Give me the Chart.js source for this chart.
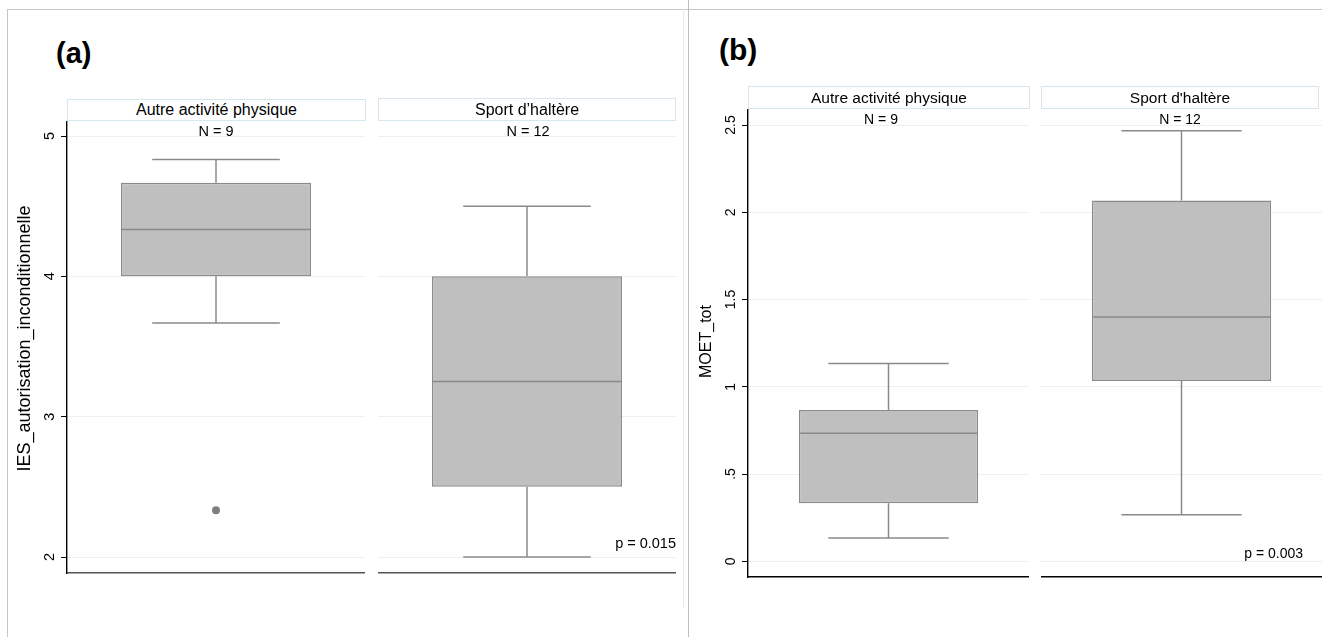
<!DOCTYPE html>
<html><head><meta charset="utf-8">
<script src="https://cdn.jsdelivr.net/npm/chart.js@4/dist/chart.umd.min.js"></script>
<style>
html,body{margin:0;padding:0;background:#fff;}
body{width:1322px;height:637px;position:relative;overflow:hidden;font-family:"Liberation Sans",Arial,Helvetica,sans-serif;color:#000;}
canvas{position:absolute;}
.strip{position:absolute;box-sizing:border-box;border:1px solid #d8e6ee;background:#fff;text-align:center;white-space:nowrap;display:flex;align-items:center;justify-content:center;}
.lbl{position:absolute;white-space:nowrap;line-height:1;}
.line{position:absolute;}
.panel{position:absolute;font-weight:bold;line-height:1;white-space:nowrap;}
</style></head><body>
<div class="line" style="left:7px;top:9px;width:1315px;height:1px;background:#c6c6c6"></div>
<div class="line" style="left:7px;top:9px;width:1px;height:628px;background:#c6c6c6"></div>
<div class="line" style="left:683px;top:9px;width:1px;height:599px;background:#ececec"></div>
<div class="line" style="left:688px;top:0px;width:1px;height:637px;background:#bdbdbd"></div>
<script>
// ---------- data ----------
const panelLabels = ['(a)', '(b)'];
const categoriesA = ['Autre activité physique', 'Sport d\u2019haltère'];
const categoriesB = ['Autre activité physique', "Sport d'haltère"];
const countsA = [9, 12];
const countsB = [9, 12];
const pValueA = 'p = 0.015';
const pValueB = 'p = 0.003';
const yTitleA = 'IES_autorisation_inconditionnelle';
const yTitleB = 'MOET_tot';

// panel (a): box statistics per group
const whiskerLowA  = [3.667, 2.0];
const q1A          = [4.0, 2.5];
const medianA      = [4.333, 3.25];
const q3A          = [4.667, 4.0];
const whiskerHighA = [4.833, 4.5];
const outliersA    = [[2.333], []];
const yTicksA      = [2, 3, 4, 5];
const yTickLabelsA = ['2', '3', '4', '5'];

// panel (b)
const whiskerLowB  = [0.133, 0.267];
const q1B          = [0.333, 1.033];
const medianB      = [0.733, 1.4];
const q3B          = [0.867, 2.067];
const whiskerHighB = [1.133, 2.467];
const outliersB    = [[], []];
const yTicksB      = [0, 0.5, 1, 1.5, 2, 2.5];
const yTickLabelsB = ['0', '.5', '1', '1.5', '2', '2.5'];

// ---------- helpers ----------
const FONT = '"Liberation Sans", Arial, Helvetica, sans-serif';
const BOX_FILL = '#bfbfbf', BOX_LINE = '#8a8a8a', PT_COLOR = '#7f7f7f';

function addDiv(cls, style, text) {
  const d = document.createElement('div');
  d.className = cls; d.style.cssText = style; d.textContent = text;
  document.body.appendChild(d); return d;
}

function makeFacet(c) {
  const cv = document.createElement('canvas');
  cv.style.left = c.left + 'px'; cv.style.top = c.top + 'px';
  cv.style.width = c.width + 'px'; cv.style.height = c.height + 'px';
  cv.width = c.width; cv.height = c.height;
  document.body.appendChild(cv);
  const i = c.index, s = c.stats, cat = c.category;
  const datasets = [{
    type: 'bar',
    data: [[s.q1[i], s.q3[i]]],
    backgroundColor: BOX_FILL, borderColor: BOX_LINE, borderWidth: 1.5,
    borderSkipped: false, barPercentage: c.boxRatio, categoryPercentage: 1, order: 2
  }];
  if (s.outliers[i].length) {
    datasets.push({
      type: 'line', showLine: false,
      data: s.outliers[i].map(v => ({x: cat, y: v})),
      pointRadius: 4, pointBackgroundColor: PT_COLOR, pointBorderColor: PT_COLOR,
      pointBorderWidth: 0, order: 1
    });
  }
  const whiskerPlugin = {
    id: 'whiskers',
    afterDatasetsDraw(chart) {
      const bar = chart.getDatasetMeta(0).data[0];
      const ys = chart.scales.y;
      const py = v => ys.getPixelForValue(v);
      const cx = bar.x, hw = bar.width / 2, cap = hw * c.capRatio;
      const ctx = chart.ctx;
      ctx.save();
      ctx.strokeStyle = BOX_LINE; ctx.lineWidth = 1.5;
      ctx.beginPath();
      ctx.moveTo(cx - hw + 0.75, py(s.median[i])); ctx.lineTo(cx + hw - 0.75, py(s.median[i]));
      ctx.moveTo(cx, py(s.q3[i])); ctx.lineTo(cx, py(s.hi[i]));
      ctx.moveTo(cx - cap, py(s.hi[i])); ctx.lineTo(cx + cap, py(s.hi[i]));
      ctx.moveTo(cx, py(s.q1[i])); ctx.lineTo(cx, py(s.lo[i]));
      ctx.moveTo(cx - cap, py(s.lo[i])); ctx.lineTo(cx + cap, py(s.lo[i]));
      ctx.stroke();
      ctx.restore();
    }
  };
  return new Chart(cv, {
    type: 'bar',
    data: { labels: [cat], datasets },
    plugins: [whiskerPlugin],
    options: {
      responsive: false, animation: false, events: [],
      layout: { autoPadding: false, padding: { top: 20, bottom: 20, left: 0, right: 0 } },
      plugins: { legend: { display: false }, tooltip: { enabled: false } },
      scales: {
        x: {
          type: 'category', offset: true,
          grid: { display: false, drawTicks: false },
          ticks: { display: false },
          border: { display: true, color: c.xAxisColor, width: 1.4 }
        },
        y: {
          type: 'linear', min: c.min, max: c.max,
          afterBuildTicks: sc => { sc.ticks = c.ticks.map(v => ({ value: v })); },
          afterFit: sc => {
            sc.width = c.yWidth;
            if (c.titleShift && !sc._titleWrapped) {
              const orig = sc.drawTitle;
              sc.drawTitle = function () {
                const t = this.top, b = this.bottom;
                this.top = t + c.titleShift; this.bottom = b + c.titleShift;
                orig.apply(this, arguments);
                this.top = t; this.bottom = b;
              };
              sc._titleWrapped = true;
            }
          },
          grid: { color: '#eaf1f3', lineWidth: 1, drawTicks: c.showAxis, tickLength: 6, tickColor: '#000', tickWidth: 1 },
          border: { display: c.showAxis, color: '#000', width: 1.4 },
          ticks: {
            display: c.showAxis, minRotation: 90, maxRotation: 90, crossAlign: 'center',
            padding: c.tickPad, color: '#000', font: { family: FONT, size: c.tickSize },
            callback: (v, idx) => c.tickLabels[idx]
          },
          title: {
            display: c.showAxis, text: c.title, color: '#000',
            font: { family: FONT, size: c.titleSize },
            padding: { top: c.titlePad, bottom: 0 }
          }
        }
      }
    }
  });
}

const statsA = { lo: whiskerLowA, q1: q1A, median: medianA, q3: q3A, hi: whiskerHighA, outliers: outliersA };
const statsB = { lo: whiskerLowB, q1: q1B, median: medianB, q3: q3B, hi: whiskerHighB, outliers: outliersB };

// ---------- panel (a) ----------
const common = { boxRatio: 0.638, capRatio: 0.671 };
makeFacet(Object.assign({}, common, {
  left: 0, top: 102, width: 365, height: 491, index: 0, stats: statsA, category: categoriesA[0],
  min: 1.886, max: 5.0998, ticks: yTicksA, tickLabels: yTickLabelsA, showAxis: true, yWidth: 67,
  tickPad: 7, tickSize: 14.5, title: yTitleA, titleSize: 18, titlePad: 14, titleShift: -9, xAxisColor: '#555'
}));
makeFacet(Object.assign({}, common, {
  left: 378, top: 102, width: 298, height: 491, index: 1, stats: statsA, category: categoriesA[1],
  min: 1.886, max: 5.0998, ticks: yTicksA, tickLabels: yTickLabelsA, showAxis: false, yWidth: 0,
  tickPad: 0, tickSize: 14.5, title: '', titleSize: 17, titlePad: 0, xAxisColor: '#555'
}));
// ---------- panel (b) ----------
makeFacet(Object.assign({}, common, {
  left: 690, top: 90, width: 339, height: 507, index: 0, stats: statsB, category: categoriesB[0],
  min: -0.09, max: 2.586, ticks: yTicksB, tickLabels: yTickLabelsB, showAxis: true, yWidth: 58,
  tickPad: 1, tickSize: 14, title: yTitleB, titleSize: 16, titlePad: 7, titleShift: -2, xAxisColor: '#000'
}));
makeFacet(Object.assign({}, common, {
  left: 1041, top: 90, width: 281, height: 507, index: 1, stats: statsB, category: categoriesB[1],
  min: -0.09, max: 2.586, ticks: yTicksB, tickLabels: yTickLabelsB, showAxis: false, yWidth: 0,
  tickPad: 0, tickSize: 14, title: '', titleSize: 16, titlePad: 0, xAxisColor: '#000'
}));

// ---------- text annotations ----------
addDiv('panel', 'left:56px;top:39px;font-size:29px;', panelLabels[0]);
addDiv('panel', 'left:719px;top:35px;font-size:30px;', panelLabels[1]);

addDiv('strip', 'left:67px;top:99px;width:299px;height:22px;font-size:16px;', categoriesA[0]);
addDiv('strip', 'left:378px;top:98px;width:298px;height:23px;font-size:16px;', categoriesA[1]);
addDiv('strip', 'left:748px;top:86px;width:282px;height:23px;font-size:15.5px;', categoriesB[0]);
addDiv('strip', 'left:1041px;top:86px;width:278px;height:23px;font-size:15.5px;', categoriesB[1]);

addDiv('lbl', 'left:166px;top:123.6px;width:100px;text-align:center;font-size:14.5px;', 'N = ' + countsA[0]);
addDiv('lbl', 'left:478px;top:124px;width:100px;text-align:center;font-size:14.5px;', 'N = ' + countsA[1]);
addDiv('lbl', 'left:831px;top:111.7px;width:100px;text-align:center;font-size:14px;', 'N = ' + countsB[0]);
addDiv('lbl', 'left:1130px;top:111.7px;width:100px;text-align:center;font-size:14px;', 'N = ' + countsB[1]);

addDiv('lbl', 'left:476px;top:536px;width:200px;text-align:right;font-size:14.5px;', pValueA);
addDiv('lbl', 'left:1103px;top:545.7px;width:200px;text-align:right;font-size:14px;', pValueB);
</script>
</body></html>
